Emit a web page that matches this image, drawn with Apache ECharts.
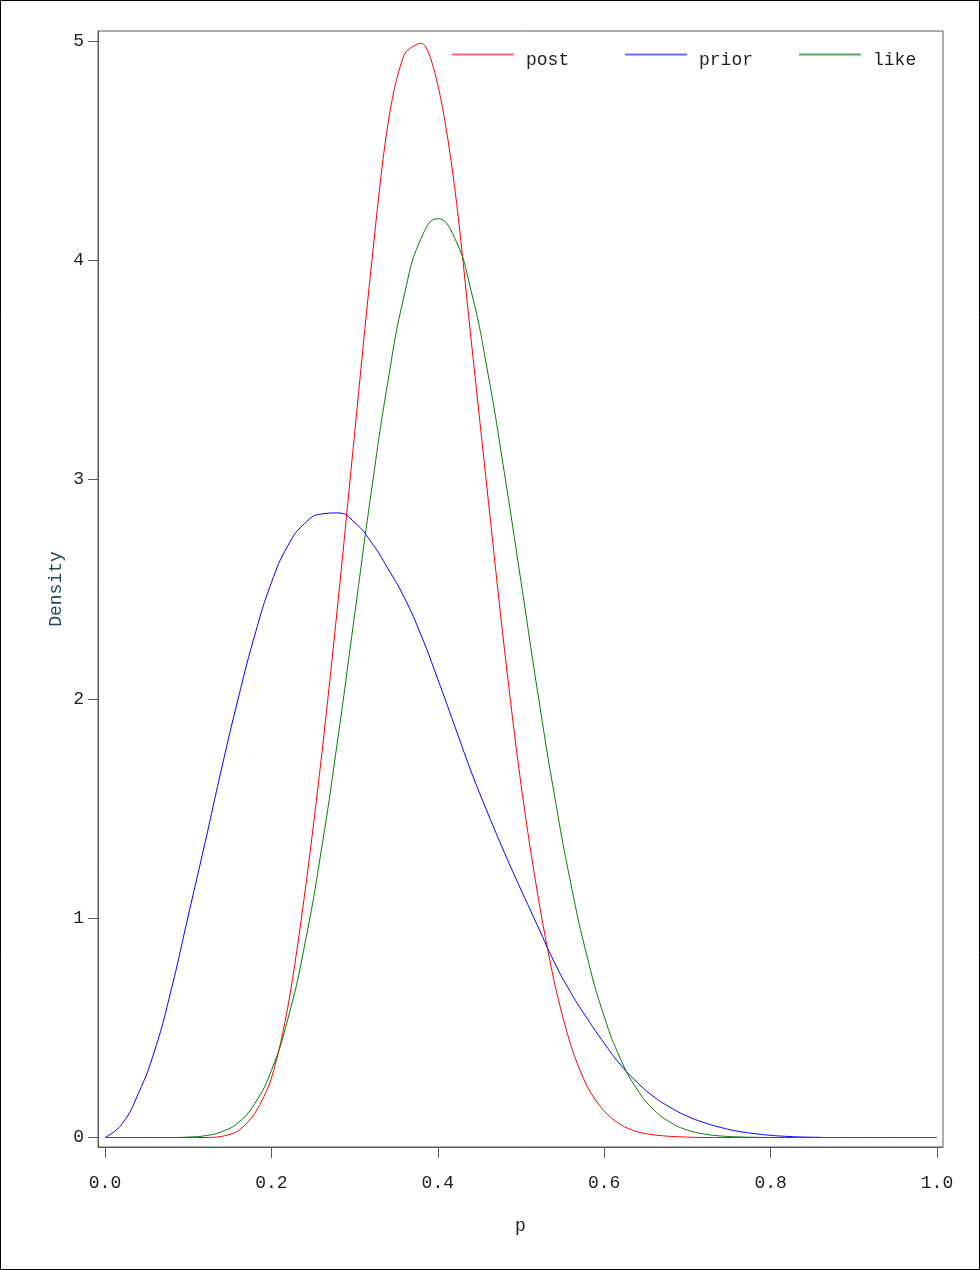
<!DOCTYPE html>
<html>
<head>
<meta charset="utf-8">
<script src="https://cdn.jsdelivr.net/npm/echarts@6/dist/echarts.min.js"></script>
<style>
html, body { margin: 0; padding: 0; background: #fff; }
#chart { width: 980px; height: 1270px; }
</style>
</head>
<body>
<div id="chart"></div>
<script>
// p 网格 (x values)
var pGrid = [0.00, 0.02, 0.04, 0.06, 0.08, 0.10, 0.12, 0.14, 0.16, 0.18,
	0.20, 0.22, 0.24, 0.26, 0.28, 0.30, 0.32, 0.34, 0.36, 0.38,
	0.40, 0.42, 0.44, 0.46, 0.48, 0.50, 0.52, 0.54, 0.56, 0.58,
	0.60, 0.62, 0.64, 0.66, 0.68, 0.70, 0.72, 0.74, 0.76, 0.78,
	0.80, 0.82, 0.84, 0.86, 0.88, 0.90, 0.92, 0.94, 0.96, 0.98, 1.00];

var post = [0, 0, 0, 0, 0, 0, 0, 0.005, 0.03, 0.11,
	0.27, 0.60, 1.11, 1.73, 2.44, 3.21, 3.97, 4.62, 4.94, 4.99,
	4.80, 4.34, 3.64, 2.93, 2.23, 1.61, 1.11, 0.71, 0.42, 0.23,
	0.12, 0.058, 0.026, 0.012, 0.005, 0.002, 0, 0, 0, 0,
	0, 0, 0, 0, 0, 0, 0, 0, 0, 0, 0];

var prior = [0, 0.06, 0.20, 0.40, 0.68, 1.01, 1.34, 1.68, 2.00, 2.29,
	2.53, 2.70, 2.80, 2.843, 2.848, 2.805, 2.715, 2.595, 2.46, 2.29,
	2.09, 1.88, 1.67, 1.48, 1.30, 1.13, 0.965, 0.80, 0.66, 0.54,
	0.43, 0.33, 0.25, 0.185, 0.136, 0.097, 0.068, 0.046, 0.029, 0.018,
	0.010, 0.005, 0.002, 0.001, null, null, null, null, null, null, null];

var like = [0, 0, 0, 0, 0, 0.002, 0.008, 0.026, 0.068, 0.155,
	0.306, 0.543, 0.878, 1.310, 1.822, 2.382, 2.942, 3.446, 3.846, 4.100,
	4.190, 4.104, 3.861, 3.490, 3.031, 2.535, 2.032, 1.565, 1.156, 0.817,
	0.552, 0.355, 0.217, 0.125, 0.068, 0.034, 0.016, 0.007, 0.003, 0.001,
	0, 0, 0, 0, 0, 0, 0, 0, 0, 0, 0];

var xTicks = [0, 0.2, 0.4, 0.6, 0.8, 1.0];
var yTicks = [0, 1, 2, 3, 4, 5];

var monoFont = "'Liberation Mono', 'Courier New', monospace";
var frameColor = '#5a5a5a';
var textColor = '#222';

function pairs(ys) {
	var out = [];
	for (var i = 0; i < pGrid.length; i++) {
		if (ys[i] !== null) out.push([pGrid[i], ys[i]]);
	}
	return out;
}

// legend line sits above the text: icon path has a tiny dot at the bottom
var legendIcon = 'path://M0,0H62V2H0Z M0,12.99H0.01V13H0Z';

function oneLegend(name, left, lightColor) {
	return {
		data: [{ name: name, itemStyle: { color: lightColor } }],
		left: left,
		top: 51,
		padding: 0,
		icon: legendIcon,
		itemWidth: 62,
		itemHeight: 13,
		textStyle: {
			fontFamily: monoFont,
			fontSize: 18,
			color: textColor,
			padding: [0, 0, 0, 7]
		}
	};
}

var myChart = echarts.init(document.getElementById('chart'));

var option = {
	animation: false,
	backgroundColor: '#fff',
	graphic: [{
		type: 'rect',
		shape: { x: 0.5, y: 0.5, width: 979, height: 1269 },
		style: { fill: 'none', stroke: '#000', lineWidth: 1 },
		silent: true
	}],
	legend: [
		oneLegend('post', 452, '#ff6a6a'),
		oneLegend('prior', 625, '#6a6aff'),
		oneLegend('like', 799, '#5aa85a')
	],
	grid: {
		left: 98,
		right: 37,
		top: 31,
		bottom: 123,
		show: true,
		borderColor: frameColor,
		borderWidth: 1,
		backgroundColor: 'transparent'
	},
	xAxis: {
		type: 'value',
		min: -0.0084,
		max: 1.0072,
		name: 'p',
		nameLocation: 'middle',
		nameGap: 70,
		nameTextStyle: { fontFamily: monoFont, fontSize: 18, color: textColor },
		axisLine: { show: true, onZero: false, lineStyle: { color: frameColor, width: 1 } },
		axisTick: { show: true, customValues: xTicks, length: 11, lineStyle: { color: frameColor } },
		axisLabel: {
			customValues: xTicks,
			margin: 27,
			fontFamily: monoFont,
			fontSize: 18,
			color: textColor,
			formatter: function (v) { return v.toFixed(1); }
		},
		splitLine: { show: false }
	},
	yAxis: {
		type: 'value',
		min: -0.0433,
		max: 5.0456,
		name: 'Density',
		nameLocation: 'middle',
		nameRotate: 90,
		nameGap: 33,
		nameMoveOverlap: false,
		nameTextStyle: { fontFamily: monoFont, fontSize: 18, color: '#1d4a55' },
		axisLine: { show: true, onZero: false, lineStyle: { color: frameColor, width: 1 } },
		axisTick: { show: true, customValues: yTicks, length: 10, lineStyle: { color: frameColor } },
		axisLabel: {
			customValues: yTicks,
			margin: 14,
			fontFamily: monoFont,
			fontSize: 18,
			color: textColor,
			formatter: function (v) { return String(v); }
		},
		splitLine: { show: false }
	},
	series: [{
		name: 'post',
		type: 'line',
		data: pairs(post),
		showSymbol: false,
		smooth: 0.3,
		lineStyle: { color: '#ff0000', width: 1 },
		itemStyle: { color: '#ff0000' }
	}, {
		name: 'prior',
		type: 'line',
		data: pairs(prior),
		showSymbol: false,
		smooth: 0.5,
		lineStyle: { color: '#0000ff', width: 1 },
		itemStyle: { color: '#0000ff' }
	}, {
		name: 'like',
		type: 'line',
		data: pairs(like),
		showSymbol: false,
		smooth: 0.5,
		lineStyle: { color: '#008000', width: 1 },
		itemStyle: { color: '#008000' }
	}]
};

myChart.setOption(option);
</script>
</body>
</html>
